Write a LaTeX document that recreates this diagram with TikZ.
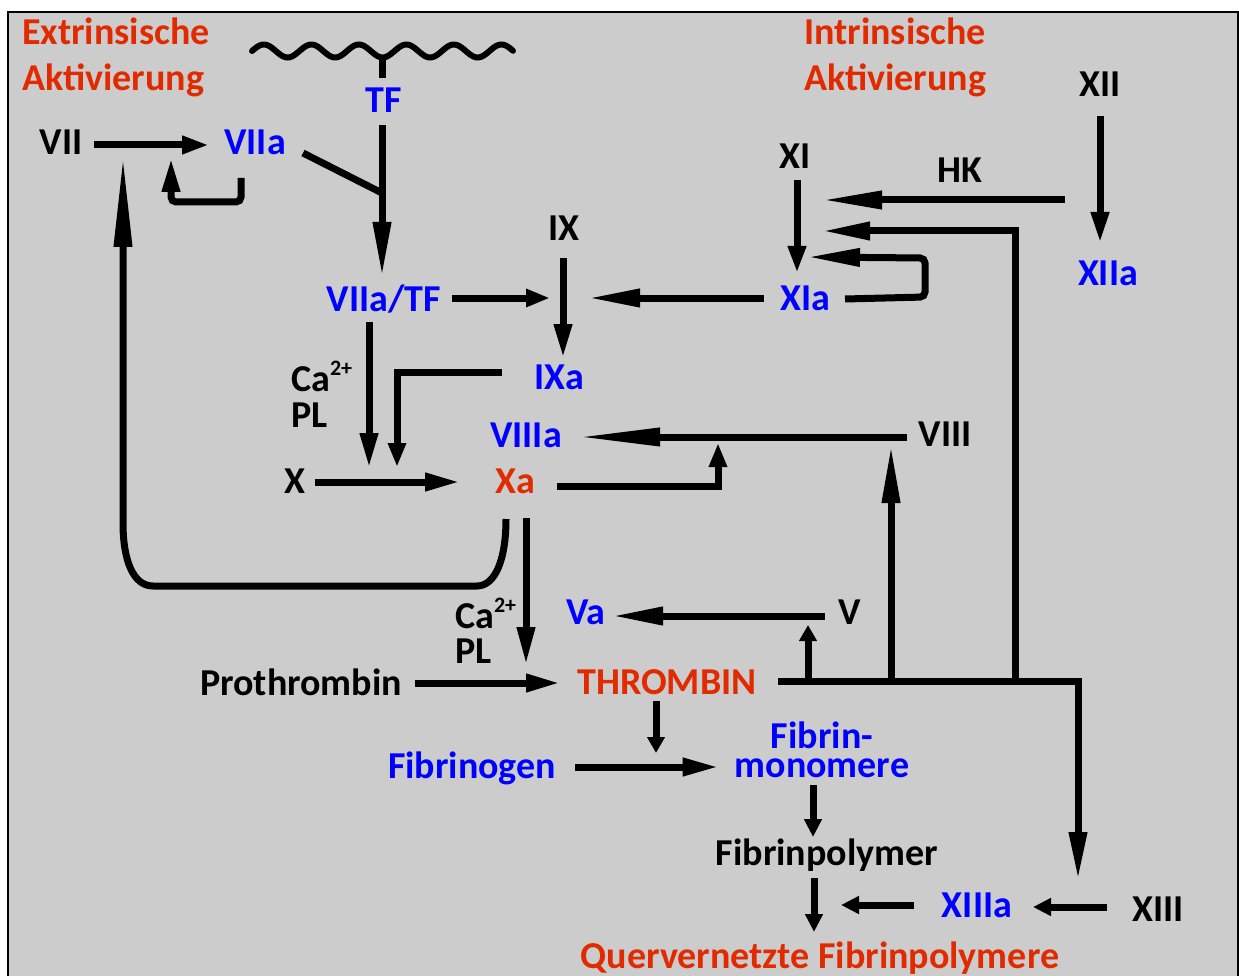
\documentclass[tikz,border=0pt]{standalone}
\usepackage{fontspec}
\setmainfont{Carlito}
\usetikzlibrary{arrows.meta,calc}
\definecolor{panelgray}{RGB}{204,204,204}
\definecolor{actred}{RGB}{226,42,0}
\definecolor{actblue}{RGB}{0,0,255}
\newcommand{\chargeup}[1]{\raisebox{0.42em}{\fontsize{22}{22}\selectfont #1}}
\tikzset{
  fac/.style={font=\bfseries\fontsize{38}{40}\selectfont, inner sep=0pt, anchor=base},
  act/.style={fac, text=actblue},
  hot/.style={fac, text=actred},
  arr/.style={line width=7pt, -{Triangle[length=#1, width=17pt]}},
  arr/.default=30pt,
  bar/.style={line width=7pt},
}

\begin{document}
\begin{tikzpicture}[x=1pt, y=-1pt]
\useasboundingbox (0,0) rectangle (1239,976);
\fill[panelgray] (8,12) rectangle (1238,990);
\draw[line width=1.5pt] (1238,990) -- (1238,12) -- (8,12) -- (8,990);

% headings
\node[hot, anchor=base west] (extr) at (22,45) {Extrinsische};
\node[hot, anchor=base west] (extr2) at (22,91) {Aktivierung};
\node[hot, anchor=base west] (intr) at (804,45) {Intrinsische};
\node[hot, anchor=base west] (intr2) at (804,91) {Aktivierung};

% factors
\node[act] (tf) at (384,113) {TF};
\node[fac] (vii) at (61,155) {VII};
\node[act] (viia) at (255,155) {VIIa};
\node[act] (viiatf) at (384,312) {VIIa/TF};
\node[fac] (ix) at (564,241) {IX};
\node[fac] (xi) at (795,169) {XI};
\node[fac] (hk) at (960,183) {HK};
\node[fac] (xii) at (1100,97) {XII};
\node[act] (xiia) at (1108,285) {XIIa};
\node[act] (xia) at (805,310) {XIa};
\node[fac, anchor=base west] (ca1) at (291,391) {Ca\chargeup{2+}};
\node[fac, anchor=base west] (pl1) at (291,427) {PL};
\node[act] (ixa) at (559,389) {IXa};
\node[act] (viiia) at (526,447) {VIIIa};
\node[fac] (x) at (295,493) {X};
\node[hot] (xa) at (515,493) {Xa};
\node[fac] (viii) at (945,446) {VIII};
\node[fac] (v) at (850,624) {V};
\node[act] (va) at (586,624) {Va};
\node[fac, anchor=base west] (ca2) at (455,628) {Ca\chargeup{2+}};
\node[fac, anchor=base west] (pl2) at (455,663) {PL};
\node[fac] (prothr) at (301,695) {Prothrombin};
\node[hot] (thr) at (667,694) {THROMBIN};
\node[act] (fbg) at (472,778) {Fibrinogen};
\node[act, align=center, anchor=north, font=\bfseries\fontsize{38}{29}\selectfont] (fbm) at (822,722) {Fibrin-\\monomere};
\node[fac] (fbp) at (827,865) {Fibrinpolymer};
\node[act] (xiiia) at (977,917) {XIIIa};
\node[fac] (xiii) at (1158,921) {XIII};
\node[hot] (qfp) at (820,968) {Quervernetzte Fibrinpolymere};

% junctions
\coordinate (tfroot) at (382,57);
\coordinate (tfj) at (382,193);
\coordinate (viij) at (124,145);
\coordinate (ixj) at (563,298);
\coordinate (xj1) at (369,482);
\coordinate (xj2) at (397,482);
\coordinate (viiij) at (718,437);
\coordinate (tv) at (808,681);
\coordinate (tviii) at (891,681);
\coordinate (txi) at (1015,681);
\coordinate (fbj) at (656,767);
\coordinate (qj) at (814,905);

% membrane with tissue factor
\draw[line width=6pt, line cap=round] plot[domain=252:513, samples=140, smooth] (\x, {51-6.5*sin(7.5789*(\x-252))});
\draw[bar] (tfroot) -- ($(tf.base)+(-2,-35)$);

% extrinsic
\draw[arr=27pt] ($(vii.base)+(33,-10)$) -- ($(viia.base)+(-46,-10)$);
\draw[arr=34pt, rounded corners=5pt] ($(viia.base)+(-14,23)$) -- ++(0,24) -- ++(-70,0) -- ($(viij)+(47,13)$);
\draw[bar] ($(viia.base)+(48,-2)$) -- (tfj);
\draw[arr=55pt] ($(tf.base)+(-2,12)$) -- ($(viiatf.base)+(-2,-35)$);
\draw[arr=24pt] ($(viiatf.base)+(68,-14)$) -- ($(ixj)+(-13,0)$);
\draw[arr=35pt] ($(viiatf.base)+(-15,10)$) -- ($(xj1)+(0,-14)$);

% intrinsic
\draw[arr=34pt] ($(ix.base)+(-1,17)$) -- ($(ixa.base)+(4,-31)$);
\draw[arr=52pt] ($(xia.base)+(-41,-12)$) -- ($(ixj)+(25,0)$);
\draw[arr=27pt] ($(xi.base)+(2,11)$) -- ($(xia.base)+(-8,-37)$);
\draw[arr=60pt] ($(hk.base)+(105,17)$) -- ($(xi.base)+(27,31)$);
\draw[arr=53pt, rounded corners=5pt] ($(xia.base)+(40,-11)$) -- ++(80,-2) -- ++(0,-39) -- ($(xia.base)+(2,-53)$);
\draw[arr=31pt] ($(xii.base)+(0,19)$) -- ($(xiia.base)+(-8,-42)$);

% common pathway
\draw[arr=24pt] ($(ixa.base)+(-57,-17)$) -| ($(xj2)+(0,-15)$);
\draw[arr=35pt] ($(x.base)+(20,-11)$) -- ($(xa.base)+(-55,-11)$);
\draw[arr=24pt] ($(xa.base)+(42,-7)$) -| ($(viiij)+(0,6)$);
\draw[arr=82pt] ($(viii.base)+(-38,-9)$) -- ($(viiia.base)+(52,-10)$);
\draw[arr=38pt] ($(xa.base)+(11,25)$) -- ($(thr.base)+(-141,-29)$);
\draw[arr=92pt] ($(xa.base)+(-9,26)$) .. controls +(0,41) and +(18,0) .. ++(-29,67)
  -- ++(-324,0) .. controls +(-20,0) and +(0,37) .. ++(-30,-63) -- ($(viij)+(-1,10)$);
\draw[arr=51pt] ($(v.base)+(-25,-8)$) -- ($(va.base)+(26,-8)$);
\draw[arr=34pt] ($(prothr.base)+(114,-12)$) -- ($(thr.base)+(-107,-11)$);

% thrombin feedback
\draw[arr=48pt] ($(thr.base)+(111,-13)$) -| ($(xiiia.base)+(101,-37)$);
\draw[arr=16pt] (tv) -- ($(v.base)+(-42,1)$);
\draw[arr=58pt] (tviii) -- ($(viii.base)+(-54,-1)$);
\draw[arr=48pt] (txi) |- ($(xi.base)+(27,62)$);

% fibrin
\draw[arr=16pt] ($(thr.base)+(-11,7)$) -- ($(fbj)+(0,-14)$);
\draw[arr=36pt] ($(fbg.base)+(103,-11)$) -- ($(fbm.north west)+(-16,45)$);
\draw[arr=18pt] ($(fbm.north)+(-9,63)$) -- ($(fbp.base)+(-14,-28)$);
\draw[arr=18pt] ($(fbp.base)+(-13,13)$) -- ($(qfp.base)+(-6,-36)$);
\draw[arr=18pt] ($(xiiia.base)+(-63,-12)$) -- ($(qj)+(27,0)$);
\draw[arr=18pt] ($(xiii.base)+(-51,-14)$) -- ($(xiiia.base)+(56,-10)$);
\end{tikzpicture}
\end{document}
